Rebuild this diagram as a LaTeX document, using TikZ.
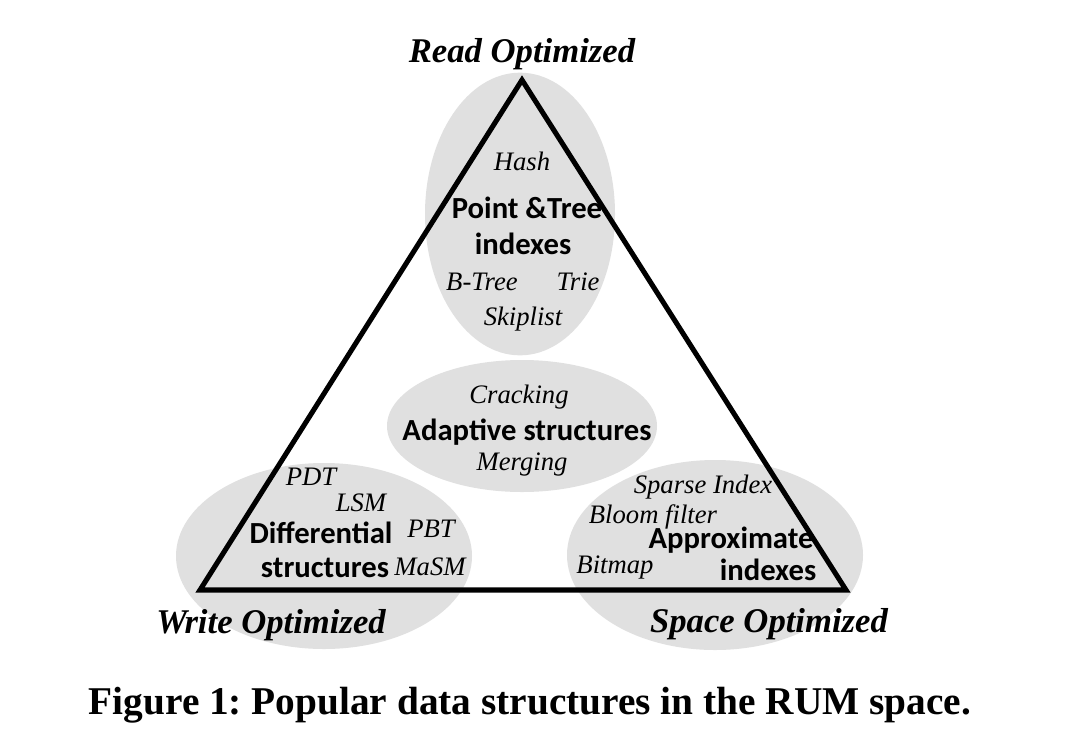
\documentclass[tikz,border=0pt]{standalone}
\usepackage{fontspec}
\setmainfont{Liberation Serif}
\newfontfamily\calfont{Carlito}
\usetikzlibrary{shapes.geometric}
\definecolor{blobgray}{HTML}{E0E0E0}
\frenchspacing
\begin{document}
\begin{tikzpicture}[x=0.75pt,y=-0.75pt,
  blob/.style={ellipse,fill=blobgray,draw=none,inner sep=0pt},
  item/.style={font=\fontsize{20}{24}\selectfont\itshape,anchor=base,inner sep=0pt},
  cat/.style={font=\fontsize{23}{27}\selectfont\calfont\bfseries,anchor=base,inner sep=0pt},
  corner/.style={font=\fontsize{26}{30}\selectfont\bfseries\itshape,anchor=base,inner sep=0pt},
  edge/.style={line width=3.8pt,line join=miter}]
\useasboundingbox (0,0) rectangle (1080,750);
\fill[white] (0,0) rectangle (1080,750);
% blobs (sizes in pt = px * 0.75)
\node[blob,minimum width=142.5pt,minimum height=212pt] (etop) at (520,214) {};
\node[blob,minimum width=202.5pt,minimum height=99pt] (emid) at (522,426) {};
\node[blob,minimum width=222pt,minimum height=139.5pt] (eleft) at (324,556) {};
\node[blob,minimum width=222pt,minimum height=142.5pt] (eright) at (715,555) {};
% triangle
\coordinate (R) at (522,80);
\coordinate (W) at (200,590);
\coordinate (S) at (846,590);
\draw[edge] (R) -- (W) -- (S) -- cycle;
% corner labels
\node[corner] (lr) at (522,62) {Read Optimized};
\node[corner] (lw) at (271,633) {Write Optimized};
\node[corner] (ls) at (769,632) {Space Optimized};
% top
\node[item] (hash) at (522,170) {Hash};
\node[cat] (pt1) at (527,218) {Point \&Tree};
\node[cat] (pt2) at (523,254) {indexes};
\node[item] (btree) at (482,290) {B-Tree};
\node[item] (trie) at (578,290) {Trie};
\node[item] (skip) at (523,325) {Skiplist};
% middle
\node[item] (crack) at (519,403) {Cracking};
\node[cat] (adapt) at (527,440) {Adaptive structures};
\node[item] (merge) at (522,470) {Merging};
% left
\node[item] (pdt) at (311,485) {PDT};
\node[item] (lsm) at (361,511) {LSM};
\node[item] (pbt) at (431,537) {PBT};
\node[cat] (diff1) at (321,543) {Differential};
\node[cat] (diff2) at (325,577) {structures};
\node[item] (masm) at (430,575) {MaSM};
% right
\node[item] (sparse) at (703,493) {Sparse Index};
\node[item] (bloom) at (653,523) {Bloom filter};
\node[cat] (appr1) at (731,548) {Approximate};
\node[item] (bitmap) at (615,573) {Bitmap};
\node[cat] (appr2) at (768,580) {indexes};
% caption
\node[font=\fontsize{29.5}{34}\selectfont\bfseries,anchor=base,inner sep=0pt] (cap) at (530,714) {Figure 1: Popular data structures in the RUM space.};
\end{tikzpicture}
\end{document}
